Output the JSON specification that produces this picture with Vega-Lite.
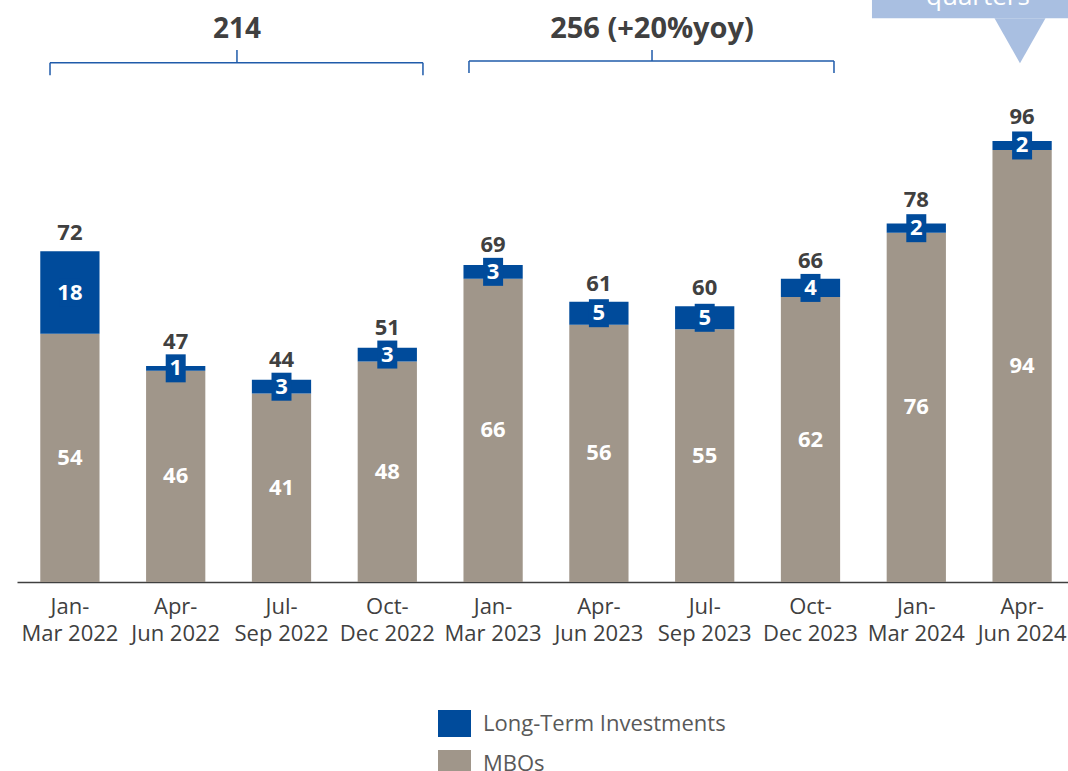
{
  "$schema": "https://vega.github.io/schema/vega-lite/v6.json",
  "width": 1051,
  "height": 582,
  "autosize": {"type": "none"},
  "padding": {"left": 17, "top": 0, "right": 0, "bottom": 189},
  "background": "white",
  "config": {
    "view": {"stroke": null},
    "font": "Open Sans",
    "axisX": {
      "domainColor": "#404040",
      "domainWidth": 1.5,
      "ticks": false,
      "grid": false,
      "labelFont": "Open Sans",
      "labelFontSize": 22,
      "labelColor": "#404040",
      "labelPadding": 14,
      "labelLineHeight": 27,
      "labelAngle": 0,
      "labelOverlap": false,
      "labelLimit": 200,
      "title": null
    }
  },
  "datasets": {
    "seg": [
      {"q": "Jan-Mar 2022", "type": "MBOs", "v": 54},
      {"q": "Jan-Mar 2022", "type": "Long-Term Investments", "v": 18},
      {"q": "Apr-Jun 2022", "type": "MBOs", "v": 46},
      {"q": "Apr-Jun 2022", "type": "Long-Term Investments", "v": 1},
      {"q": "Jul-Sep 2022", "type": "MBOs", "v": 41},
      {"q": "Jul-Sep 2022", "type": "Long-Term Investments", "v": 3},
      {"q": "Oct-Dec 2022", "type": "MBOs", "v": 48},
      {"q": "Oct-Dec 2022", "type": "Long-Term Investments", "v": 3},
      {"q": "Jan-Mar 2023", "type": "MBOs", "v": 66},
      {"q": "Jan-Mar 2023", "type": "Long-Term Investments", "v": 3},
      {"q": "Apr-Jun 2023", "type": "MBOs", "v": 56},
      {"q": "Apr-Jun 2023", "type": "Long-Term Investments", "v": 5},
      {"q": "Jul-Sep 2023", "type": "MBOs", "v": 55},
      {"q": "Jul-Sep 2023", "type": "Long-Term Investments", "v": 5},
      {"q": "Oct-Dec 2023", "type": "MBOs", "v": 62},
      {"q": "Oct-Dec 2023", "type": "Long-Term Investments", "v": 4},
      {"q": "Jan-Mar 2024", "type": "MBOs", "v": 76},
      {"q": "Jan-Mar 2024", "type": "Long-Term Investments", "v": 2},
      {"q": "Apr-Jun 2024", "type": "MBOs", "v": 94},
      {"q": "Apr-Jun 2024", "type": "Long-Term Investments", "v": 2}
    ],
    "totals": [
      {"q": "Jan-Mar 2022", "total": 72, "lti": 18},
      {"q": "Apr-Jun 2022", "total": 47, "lti": 1},
      {"q": "Jul-Sep 2022", "total": 44, "lti": 3},
      {"q": "Oct-Dec 2022", "total": 51, "lti": 3},
      {"q": "Jan-Mar 2023", "total": 69, "lti": 3},
      {"q": "Apr-Jun 2023", "total": 61, "lti": 5},
      {"q": "Jul-Sep 2023", "total": 60, "lti": 5},
      {"q": "Oct-Dec 2023", "total": 66, "lti": 4},
      {"q": "Jan-Mar 2024", "total": 78, "lti": 2},
      {"q": "Apr-Jun 2024", "total": 96, "lti": 2}
    ]
  },
  "resolve": {"scale": {"x": "independent"}},
  "layer": [
    {
      "layer": [
        {
          "data": {"name": "seg"},
          "mark": {"type": "bar"},
          "encoding": {
            "x": {
              "field": "q", "type": "nominal", "sort": null,
              "scale": {"domain": ["Jan-Mar 2022","Apr-Jun 2022","Jul-Sep 2022","Oct-Dec 2022","Jan-Mar 2023","Apr-Jun 2023","Jul-Sep 2023","Oct-Dec 2023","Jan-Mar 2024","Apr-Jun 2024"], "range": [0, 1058], "paddingInner": 0.44, "paddingOuter": 0.22},
              "axis": {"labelExpr": "[substring(datum.label, 0, 4), substring(datum.label, 4)]"}
            },
            "y": {"field": "v", "type": "quantitative", "stack": "zero", "scale": {"domain": [0, 126.66], "nice": false, "zero": true}, "axis": null},
            "color": {
              "field": "type", "type": "nominal",
              "scale": {"domain": ["Long-Term Investments", "MBOs"], "range": ["#004B9B", "#A0968A"]},
              "legend": {
                "orient": "none",
                "legendX": 421,
                "legendY": 707,
                "title": null,
                "direction": "vertical",
                "padding": 0,
                "symbolType": "M-1,-0.82L1,-0.82L1,0.82L-1,0.82Z",
                "symbolSize": 1089,
                "symbolStrokeWidth": 0,
                "symbolOpacity": 1,
                "labelFont": "Open Sans",
                "labelFontSize": 22,
                "labelColor": "#595959",
                "labelOffset": 12,
                "rowPadding": 9,
                "labelLimit": 400
              }
            },
            "order": {"field": "type", "sort": "descending"}
          }
        },
        {
          "data": {"name": "seg"},
          "mark": {"type": "point", "shape": "M-0.714,-1L0.714,-1L0.714,1L-0.714,1Z", "size": 784, "filled": true, "fill": "#004B9B", "strokeWidth": 0},
          "encoding": {
            "x": {"field": "q", "type": "nominal", "sort": null},
            "y": {"field": "v", "type": "quantitative", "stack": "zero", "bandPosition": 0.5},
            "detail": {"field": "type", "type": "nominal"},
            "order": {"field": "type", "sort": "descending"},
            "opacity": {"condition": {"test": "datum.type === 'Long-Term Investments'", "value": 1}, "value": 0}
          }
        },
        {
          "data": {"name": "seg"},
          "mark": {"type": "text", "fontSize": 22, "fontWeight": "bold", "color": "white", "baseline": "middle", "font": "Open Sans"},
          "encoding": {
            "x": {"field": "q", "type": "nominal", "sort": null},
            "y": {"field": "v", "type": "quantitative", "stack": "zero", "bandPosition": 0.5},
            "detail": {"field": "type", "type": "nominal"},
            "order": {"field": "type", "sort": "descending"},
            "text": {"field": "v", "type": "quantitative"}
          }
        },
        {
          "data": {"name": "totals"},
          "transform": [{"filter": "datum.lti >= 4"}],
          "mark": {"type": "text", "fontSize": 22, "fontWeight": "bold", "color": "#404040", "baseline": "alphabetic", "dy": -11, "font": "Open Sans"},
          "encoding": {
            "x": {"field": "q", "type": "nominal", "sort": null},
            "y": {"field": "total", "type": "quantitative"},
            "text": {"field": "total", "type": "quantitative"}
          }
        },
        {
          "data": {"name": "totals"},
          "transform": [{"filter": "datum.lti == 3"}],
          "mark": {"type": "text", "fontSize": 22, "fontWeight": "bold", "color": "#404040", "baseline": "alphabetic", "dy": -13, "font": "Open Sans"},
          "encoding": {
            "x": {"field": "q", "type": "nominal", "sort": null},
            "y": {"field": "total", "type": "quantitative"},
            "text": {"field": "total", "type": "quantitative"}
          }
        },
        {
          "data": {"name": "totals"},
          "transform": [{"filter": "datum.lti <= 2"}],
          "mark": {"type": "text", "fontSize": 22, "fontWeight": "bold", "color": "#404040", "baseline": "alphabetic", "dy": -17, "font": "Open Sans"},
          "encoding": {
            "x": {"field": "q", "type": "nominal", "sort": null},
            "y": {"field": "total", "type": "quantitative"},
            "text": {"field": "total", "type": "quantitative"}
          }
        }
      ]
    },
    {
      "layer": [
        {
          "data": {"values": [{}]},
          "mark": {"type": "rule", "color": "#1F5BAA", "strokeWidth": 1.5},
          "encoding": {
            "x": {"datum": 0.312, "type": "quantitative", "scale": {"domain": [0, 10], "range": [0, 1058], "nice": false, "zero": false}, "axis": null},
            "x2": {"datum": 3.837},
            "y": {"datum": 113.0, "type": "quantitative"}
          }
        },
        {
          "data": {"values": [{}]},
          "mark": {"type": "rule", "color": "#1F5BAA", "strokeWidth": 1.5},
          "encoding": {
            "x": {"datum": 0.312, "type": "quantitative"},
            "y": {"datum": 110.3, "type": "quantitative"},
            "y2": {"datum": 113.0}
          }
        },
        {
          "data": {"values": [{}]},
          "mark": {"type": "rule", "color": "#1F5BAA", "strokeWidth": 1.5},
          "encoding": {
            "x": {"datum": 3.837, "type": "quantitative"},
            "y": {"datum": 110.3, "type": "quantitative"},
            "y2": {"datum": 113.0}
          }
        },
        {
          "data": {"values": [{}]},
          "mark": {"type": "rule", "color": "#1F5BAA", "strokeWidth": 1.5},
          "encoding": {
            "x": {"datum": 2.079, "type": "quantitative"},
            "y": {"datum": 113.0, "type": "quantitative"},
            "y2": {"datum": 115.8}
          }
        },
        {
          "data": {"values": [{}]},
          "mark": {"type": "rule", "color": "#1F5BAA", "strokeWidth": 1.5},
          "encoding": {
            "x": {"datum": 4.272, "type": "quantitative"},
            "x2": {"datum": 7.722},
            "y": {"datum": 113.4, "type": "quantitative"}
          }
        },
        {
          "data": {"values": [{}]},
          "mark": {"type": "rule", "color": "#1F5BAA", "strokeWidth": 1.5},
          "encoding": {
            "x": {"datum": 4.272, "type": "quantitative"},
            "y": {"datum": 110.8, "type": "quantitative"},
            "y2": {"datum": 113.4}
          }
        },
        {
          "data": {"values": [{}]},
          "mark": {"type": "rule", "color": "#1F5BAA", "strokeWidth": 1.5},
          "encoding": {
            "x": {"datum": 7.722, "type": "quantitative"},
            "y": {"datum": 110.8, "type": "quantitative"},
            "y2": {"datum": 113.4}
          }
        },
        {
          "data": {"values": [{}]},
          "mark": {"type": "rule", "color": "#1F5BAA", "strokeWidth": 1.5},
          "encoding": {
            "x": {"datum": 6.002, "type": "quantitative"},
            "y": {"datum": 113.4, "type": "quantitative"},
            "y2": {"datum": 115.8}
          }
        },
        {
          "data": {"values": [{}]},
          "mark": {"type": "text", "fontSize": 28, "fontWeight": "bold", "color": "#404040", "baseline": "alphabetic", "font": "Open Sans"},
          "encoding": {
            "x": {"datum": 2.079, "type": "quantitative"},
            "y": {"datum": 118.4, "type": "quantitative"},
            "text": {"value": "214"}
          }
        },
        {
          "data": {"values": [{}]},
          "mark": {"type": "text", "fontSize": 29, "fontWeight": "bold", "color": "#404040", "baseline": "alphabetic", "font": "Open Sans"},
          "encoding": {
            "x": {"datum": 6.002, "type": "quantitative"},
            "y": {"datum": 118.4, "type": "quantitative"},
            "text": {"value": "256 (+20%yoy)"}
          }
        },
        {
          "data": {"values": [{}]},
          "mark": {"type": "rect", "color": "#A9BFE1"},
          "encoding": {
            "x": {"datum": 8.081, "type": "quantitative"},
            "x2": {"datum": 10.5},
            "y": {"datum": 122.7, "type": "quantitative"},
            "y2": {"datum": 126.66}
          }
        },
        {
          "data": {"values": [{}]},
          "mark": {"type": "point", "shape": "M-1,-0.882L1,-0.882L0,0.882Z", "size": 2601, "filled": true, "fill": "#A9BFE1", "opacity": 1, "strokeWidth": 0},
          "encoding": {
            "x": {"datum": 9.48, "type": "quantitative"},
            "y": {"datum": 117.8, "type": "quantitative"}
          }
        },
        {
          "data": {"values": [{}]},
          "mark": {"type": "text", "fontSize": 26, "color": "white", "baseline": "alphabetic", "font": "Open Sans"},
          "encoding": {
            "x": {"datum": 9.083, "type": "quantitative"},
            "y": {"datum": 125.6, "type": "quantitative"},
            "text": {"value": "quarters"}
          }
        }
      ]
    }
  ]
}
